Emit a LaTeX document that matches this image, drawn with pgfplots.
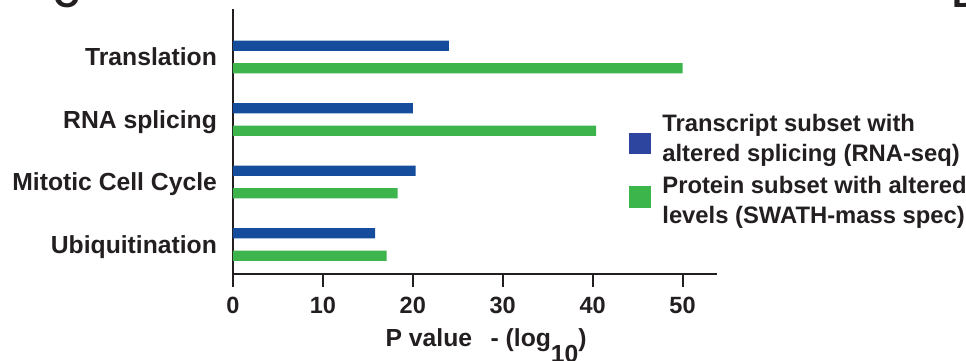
\documentclass[border=0pt]{standalone}
\usepackage{pgfplots}
\pgfplotsset{compat=1.18}
\usepackage{fontspec}
\setmainfont{Liberation Sans}
\definecolor{txt}{RGB}{35,31,32}
\definecolor{barblue}{RGB}{21,76,156}
\definecolor{bargreen}{RGB}{61,181,76}
\definecolor{legblue}{RGB}{45,69,158}
\definecolor{leggreen}{RGB}{60,182,75}
\begin{document}
\begin{tikzpicture}
\begin{axis}[
  scale only axis, width=483.7bp, height=265bp,
  at={(0,0)}, anchor=south west,
  xmin=0, xmax=53.8, ymin=-0.477, ymax=3.763,
  axis x line*=bottom, axis y line*=left,
  axis line style={line width=2bp, draw=txt},
  xtick={0,10,20,30,40,50}, ytick={0,1,2,3},
  yticklabels={Ubiquitination,Mitotic Cell Cycle,RNA splicing,Translation},
  tick align=outside, major tick length=12.4bp,
  xtick style={line width=2bp, draw=txt},
  ytick style={draw=none},
  /pgf/number format/assume math mode=true,
  xticklabel style={font=\fontsize{23.5bp}{28bp}\selectfont\bfseries, text=txt, inner sep=0pt, anchor=north, yshift=-10bp},
  yticklabel style={font=\fontsize{24.7bp}{28bp}\selectfont\bfseries, text=txt, inner sep=0pt, anchor=base east, xshift=-3.5bp, yshift=-8.8bp},
  xlabel={P value\hspace{0.75em}- (log\raisebox{-16bp}{10})},
  xlabel style={font=\fontsize{24.7bp}{28bp}\selectfont\bfseries, text=txt, at={(axis description cs:0.5,0)}, anchor=base, yshift=-72.4bp, xshift=11.3bp, inner sep=0pt},
  legend cell align=left,
  legend style={draw=none, fill=none, inner sep=0pt, outer sep=0pt,
    at={(0.8187,0.6264)}, anchor=north west,
    column sep=10bp, row sep=16.7bp,
    font=\fontsize{23.8bp}{30bp}\selectfont\bfseries, text=txt,
    cells={anchor=base west, inner sep=0pt}},
]
\addplot[xbar, bar width=10.3bp, fill=barblue, draw=none, bar shift=11.3bp, forget plot]
  coordinates {(24,3) (20,2) (20.3,1) (15.8,0)};
\addplot[xbar, bar width=10.3bp, fill=bargreen, draw=none, bar shift=-11.3bp, forget plot]
  coordinates {(50,3) (40.4,2) (18.3,1) (17.1,0)};
\addlegendimage{legend image code/.code={\fill[legblue] (0bp,-22.4bp) rectangle (21bp,-1.7bp);}}
\addlegendentry{\begin{tabular}[t]{@{}l@{}}Transcript subset with\\altered splicing (RNA-seq)\end{tabular}}
\addlegendimage{legend image code/.code={\fill[leggreen] (0bp,-13.3bp) rectangle (21bp,7bp);}}
\addlegendentry{\begin{tabular}[t]{@{}l@{}}Protein subset with altered\\levels (SWATH-mass spec)\end{tabular}}
\end{axis}
\node[anchor=base, inner sep=0pt, text=txt, font=\fontsize{36bp}{36bp}\selectfont\bfseries] at (-166bp,266.8bp) {C};
\node[anchor=base west, inner sep=0pt, text=txt, font=\fontsize{36bp}{36bp}\selectfont\bfseries] at (719.5bp,266.3bp) {D};
\pgfresetboundingbox
\path[use as bounding box] (-233bp,-86.7bp) rectangle (733bp,274.3bp);
\end{tikzpicture}
\end{document}
